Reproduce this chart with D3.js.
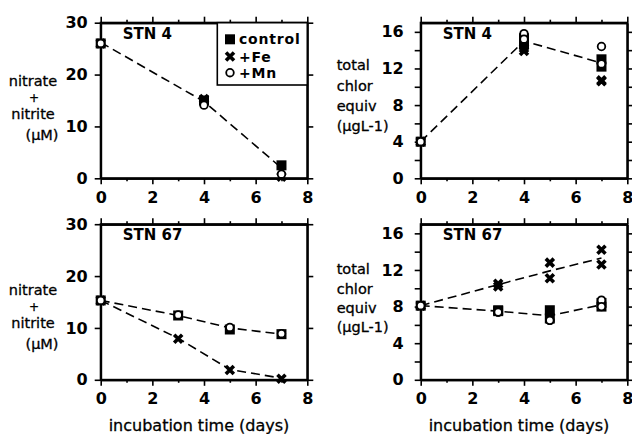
<!DOCTYPE html>
<html>
<head>
<meta charset="utf-8">
<script src="https://cdn.jsdelivr.net/npm/d3@7"></script>
<style>
  body { margin: 0; background: #fff; }
  text { font-family: "DejaVu Sans", sans-serif; fill: #000; }
</style>
</head>
<body>
<div id="chart"></div>
<script>
// ---- data ----
const days4 = [0, 4, 7];
const days67 = [0, 3, 5, 7];

// STN 4, nitrate + nitrite (uM)
const nit4Control = [26, 15.0, 2.5];
const nit4Fe = [26, 15.3, 0.3];
const nit4Mn = [26, 14.1, 0.8];
const nit4Trend = [26.2, 14.8, 2.0];

// STN 4, total chlor equiv (ugL-1), duplicate bottles
const chl4Days = [0, 4, 4, 7, 7];
const chl4Control = [4, 15.3, 14.6, 13.0, 12.2];
const chl4Fe = [4, 13.9, 14.2, 10.7, 10.6];
const chl4Mn = [4, 15.8, 15.2, 14.4, 12.5];
const chl4Trend = [4, 15.0, 12.6];

// STN 67, nitrate + nitrite (uM)
const nit67Control = [15.3, 12.4, 9.7, 8.8];
const nit67Fe = [15.3, 7.9, 1.9, 0.2];
const nit67Mn = [15.3, 12.5, 10.1, 8.9];
const nit67TrendA = [15.3, 12.4, 10.0, 8.8];
const nit67TrendB = [15.3, 8.0, 2.0, 0.3];

// STN 67, total chlor equiv (ugL-1), duplicate bottles
const chl67Days = [0, 3, 3, 5, 5, 7, 7];
const chl67Control = [8.1, 7.6, 7.5, 7.6, 6.7, 8.4, 8.0];
const chl67Fe = [8.1, 10.5, 10.2, 12.8, 11.1, 14.2, 12.6];
const chl67Mn = [8.1, 7.4, 7.4, 6.5, 6.5, 8.7, 8.0];
const chl67TrendA = [8.1, 10.4, 11.9, 13.3];
const chl67TrendB = [8.1, 7.5, 7.0, 8.2];

const xTicks = [0, 2, 4, 6, 8];
const xMinor = [1, 3, 5, 7];
const nitTicks = [0, 10, 20, 30];
const chlTicks = [0, 4, 8, 12, 16];
const chlMinor = [2, 6, 10, 14];
const legendNames = ["control", "+Fe", "+Mn"];

const W = 632, H = 434;
const svg = d3.select("#chart").append("svg")
    .attr("width", W)
    .attr("height", H);

const pw = 206.6, ph = 155.6;

function zip(xs, ys){ return xs.map((x, i) => [x, ys[i]]); }

const panels = [
  {left: 100.7, top: 22.7, ymax: 30, ticks: nitTicks, minor: [], label: "STN 4",
   title: ["nitrate", "+", "nitrite", "(\u00b5M)"], titleType: "nit",
   control: zip(days4, nit4Control), fe: zip(days4, nit4Fe), mn: zip(days4, nit4Mn),
   trends: [zip(days4, nit4Trend)], legend: true, labPad: 7},
  {left: 420.7, top: 22.7, ymax: 17, ticks: chlTicks, minor: chlMinor, label: "STN 4",
   title: ["total", "chlor", "equiv", "(\u00b5gL-1)"], titleType: "chl",
   control: zip(chl4Days, chl4Control), fe: zip(chl4Days, chl4Fe), mn: zip(chl4Days, chl4Mn),
   trends: [zip(days4, chl4Trend)], labPad: 11},
  {left: 100.7, top: 224.2, ymax: 30, ticks: nitTicks, minor: [], label: "STN 67",
   title: ["nitrate", "+", "nitrite", "(\u00b5M)"], titleType: "nit",
   control: zip(days67, nit67Control), fe: zip(days67, nit67Fe), mn: zip(days67, nit67Mn),
   trends: [zip(days67, nit67TrendA), zip(days67, nit67TrendB)], xlabel: true, labPad: 7},
  {left: 420.7, top: 224.2, ymax: 17, ticks: chlTicks, minor: chlMinor, label: "STN 67",
   title: ["total", "chlor", "equiv", "(\u00b5gL-1)"], titleType: "chl",
   control: zip(chl67Days, chl67Control), fe: zip(chl67Days, chl67Fe), mn: zip(chl67Days, chl67Mn),
   trends: [zip(days67, chl67TrendA), zip(days67, chl67TrendB)], xlabel: true, labPad: 11}
];

function drawSquare(g, x, y){
  g.append("rect").attr("x", x - 5).attr("y", y - 5)
    .attr("width", 10).attr("height", 10).attr("fill", "#000");
}
function drawCross(g, x, y){
  const s = 4;
  g.append("path")
    .attr("d", `M${x-s},${y-s}L${x+s},${y+s}M${x-s},${y+s}L${x+s},${y-s}`)
    .attr("stroke", "#000").attr("stroke-width", 3.6).attr("fill", "none");
}
function drawCircle(g, x, y){
  g.append("circle").attr("cx", x).attr("cy", y).attr("r", 3.8)
    .attr("fill", "#fff").attr("stroke", "#000").attr("stroke-width", 1.8);
}

panels.forEach(p => {
  const bottom = p.top + ph;
  const x = d3.scaleLinear().domain([0, 8]).range([p.left, p.left + pw]);
  const y = d3.scaleLinear().domain([0, p.ymax]).range([bottom, p.top]);
  const g = svg.append("g");

  // axes, ticks outward on all sides
  const allY = p.ticks.concat(p.minor);
  g.append("g").attr("transform", `translate(${p.left},0)`)
    .call(d3.axisLeft(y).tickValues(allY).tickSize(6).tickSizeOuter(0)
      .tickPadding(p.labPad)
      .tickFormat(d => p.ticks.includes(d) ? d : ""));
  g.append("g").attr("transform", `translate(${p.left + pw},0)`)
    .call(d3.axisRight(y).tickValues(allY).tickSize(6).tickSizeOuter(0).tickFormat(""));
  g.append("g").attr("transform", `translate(0,${bottom})`)
    .call(d3.axisBottom(x).tickValues(xTicks).tickSize(6).tickSizeOuter(0).tickPadding(7));
  g.append("g").attr("transform", `translate(0,${bottom})`)
    .call(d3.axisBottom(x).tickValues(xMinor).tickSize(3).tickSizeOuter(0).tickFormat(""));
  g.append("g").attr("transform", `translate(0,${p.top})`)
    .call(d3.axisTop(x).tickValues(xTicks).tickSize(6).tickSizeOuter(0).tickFormat(""));
  g.append("g").attr("transform", `translate(0,${p.top})`)
    .call(d3.axisTop(x).tickValues(xMinor).tickSize(3).tickSizeOuter(0).tickFormat(""));

  g.selectAll(".tick line").attr("stroke", "#000").attr("stroke-width", 1.6);
  g.selectAll(".domain").attr("stroke", "#000").attr("stroke-width", 2);
  g.selectAll(".tick text")
    .attr("font-family", "DejaVu Sans").attr("font-weight", "bold")
    .attr("font-size", 16).attr("fill", "#000");

  g.append("rect").attr("x", p.left).attr("y", p.top)
    .attr("width", pw).attr("height", ph)
    .attr("fill", "none").attr("stroke", "#000").attr("stroke-width", 2);

  // trend lines
  const line = d3.line().x(d => x(d[0])).y(d => y(d[1]));
  p.trends.forEach(t => {
    g.append("path").datum(t).attr("d", line)
      .attr("fill", "none").attr("stroke", "#000")
      .attr("stroke-width", 1.6).attr("stroke-dasharray", "9,5");
  });

  // markers
  p.control.forEach(d => drawSquare(g, x(d[0]), y(d[1])));
  p.fe.forEach(d => drawCross(g, x(d[0]), y(d[1])));
  p.mn.forEach(d => drawCircle(g, x(d[0]), y(d[1])));

  // station label
  g.append("text").attr("x", p.left + 22).attr("y", p.top + 16)
    .attr("font-weight", "bold").attr("font-size", 15).text(p.label);

  // y title
  if (p.titleType === "nit") {
    const base = p.top === 22.7 ? [86, 102, 119, 140] : [295, 311, 328, 349];
    const cx = [33, 34, 33, 42];
    const fs = [14.5, 12, 14.5, 14.5];
    p.title.forEach((t, i) => {
      g.append("text").attr("x", cx[i]).attr("y", base[i])
        .attr("text-anchor", "middle").attr("font-size", fs[i])
        .attr("stroke", "#000").attr("stroke-width", 0.3).text(t);
    });
  } else {
    const base = p.top === 22.7 ? [70, 91, 111, 131] : [274, 294, 313, 332];
    p.title.forEach((t, i) => {
      g.append("text").attr("x", 336.7).attr("y", base[i])
        .attr("font-size", 14.5)
        .attr("stroke", "#000").attr("stroke-width", 0.3).text(t);
    });
  }

  if (p.xlabel) {
    g.append("text").attr("x", p.left + pw / 2 - 5).attr("y", 431)
      .attr("text-anchor", "middle").attr("font-size", 16)
      .attr("stroke", "#000").attr("stroke-width", 0.3)
      .text("incubation time (days)");
  }

  if (p.legend) {
    const lx = 217.3;
    g.append("rect").attr("x", lx).attr("y", p.top)
      .attr("width", p.left + pw - lx).attr("height", 62.3)
      .attr("fill", "#fff").attr("stroke", "#000").attr("stroke-width", 1.6);
    const ly = [39.3, 56.5, 72.7];
    const drawers = [drawSquare, drawCross, drawCircle];
    legendNames.forEach((n, i) => {
      drawers[i](g, 230, ly[i]);
      g.append("text").attr("x", 239).attr("y", ly[i] + 5)
        .attr("font-weight", "bold").attr("font-size", 14)
        .attr("letter-spacing", 0.8).text(n);
    });
  }
});
</script>
</body>
</html>
